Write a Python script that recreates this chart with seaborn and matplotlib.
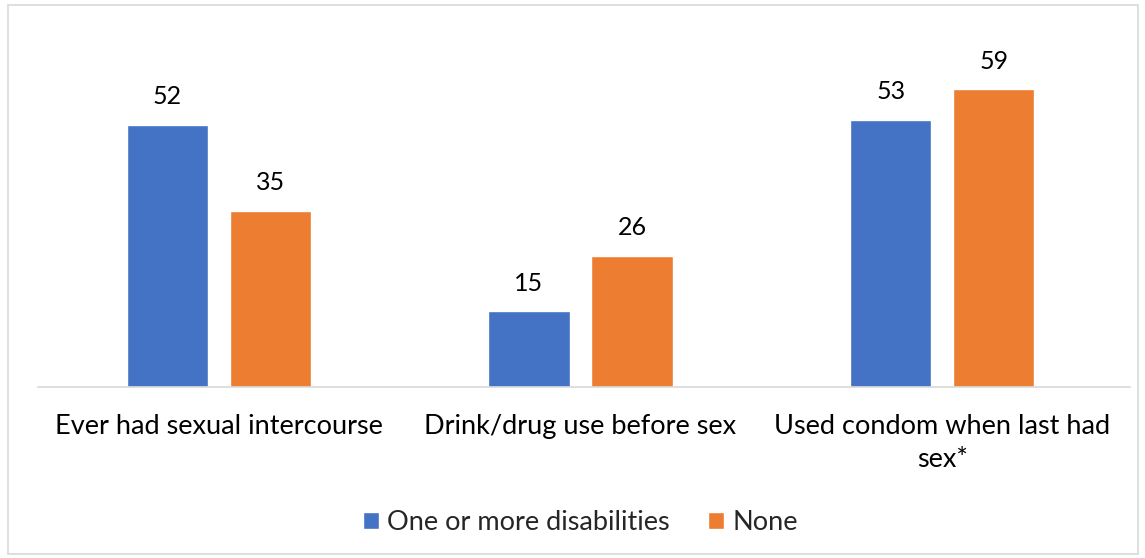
import matplotlib.pyplot as plt
import seaborn as sns
import pandas as pd
from matplotlib.patches import Rectangle

categories = ["Ever had sexual intercourse", "Drink/drug use before sex",
              "Used condom when last had\nsex*"]
disability = [52, 15, 53]
none = [35, 26, 59]
series_names = ["One or more disabilities", "None"]
colors = ["#4472C4", "#ED7D31"]

df = pd.DataFrame({
    "category": categories * 2,
    "value": disability + none,
    "group": [series_names[0]] * 3 + [series_names[1]] * 3,
})

sns.set_theme(style="white")
plt.rcParams['font.family'] = ['Lato', 'DejaVu Sans']

fig = plt.figure(figsize=(11.45, 5.58), dpi=100)
ax = fig.add_axes([38 / 1145, 1 - 387 / 558, 1085 / 1145, 353 / 558])

sns.barplot(data=df, x="category", y="value", hue="group",
            palette=colors, width=0.57, gap=0.21, ax=ax,
            saturation=1, legend=True)

for container in ax.containers:
    ax.bar_label(container, fmt="%d", padding=12, fontsize=18, color="#000000")

ax.set_ylim(0, 70)
ax.set_xlim(-0.5, 2.5)
ax.set_yticks([])
ax.set_xlabel("")
ax.set_ylabel("")
ax.tick_params(axis="x", length=0, pad=19.5, labelsize=19.5, colors="#000000")
for lbl in ax.get_xticklabels():
    lbl.set_linespacing(1.4)
for s in ["top", "right", "left"]:
    ax.spines[s].set_visible(False)
ax.spines["bottom"].set_color("#D9D9D9")
ax.spines["bottom"].set_linewidth(1.2)
ax.spines["bottom"].set_bounds(-0.5, 2.52)

handles, labels = ax.get_legend_handles_labels()
ax.legend(handles, labels, loc="center", bbox_to_anchor=(0.5, -0.385),
          ncol=2, frameon=False, fontsize=19.5, handlelength=0.6,
          handleheight=0.6, handletextpad=0.3, columnspacing=1.4)

fig.patches.append(Rectangle((8 / 1145, 4 / 558), 1130 / 1145, 549 / 558,
                             transform=fig.transFigure, fill=False,
                             edgecolor="#D9D9D9", linewidth=1.2))

fig.savefig("out.png", dpi=100)
